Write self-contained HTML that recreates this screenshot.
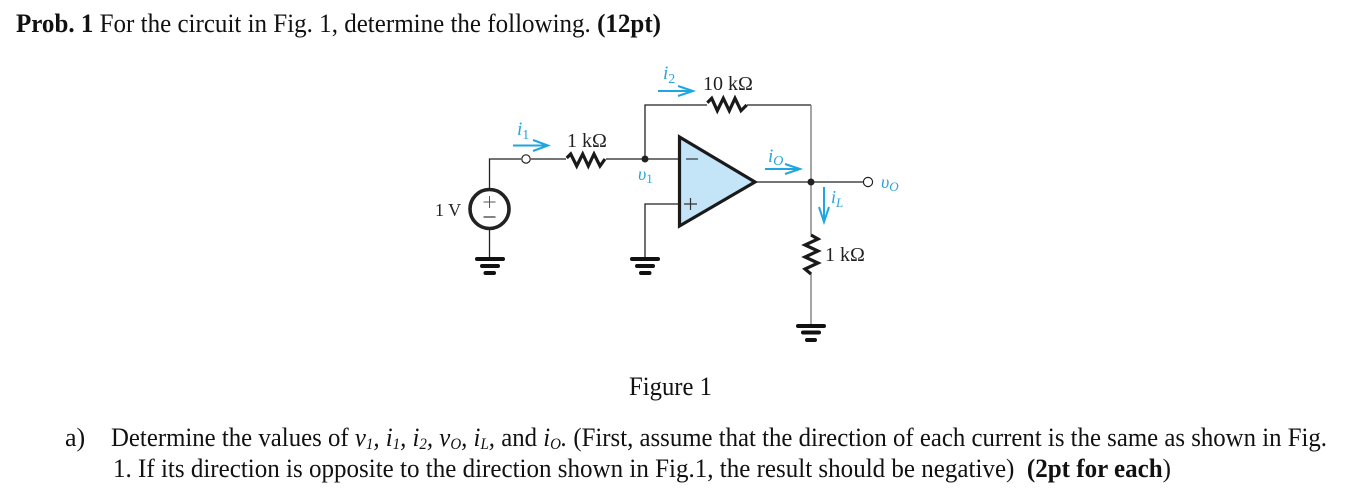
<!DOCTYPE html>
<html><head><meta charset="utf-8">
<style>
html,body{margin:0;padding:0;background:#fff;width:1349px;height:504px;overflow:hidden}
svg{display:block}
text{font-family:"Liberation Serif",serif;fill:#111}
.c{fill:#2aa5d8;font-style:italic}
.l{font-size:20px;fill:#222}
.w{stroke:#222;stroke-width:1.3;fill:none}
.g{stroke:#777;stroke-width:1.3;fill:none}
.r{stroke:#1a1a1a;stroke-width:3.2;fill:none;stroke-linejoin:miter}
.a{stroke:#1fa6e0;stroke-width:2;fill:none}
.gb{stroke:#111;stroke-linecap:round;stroke-width:4}
</style></head><body>
<svg width="1349" height="504" viewBox="0 0 1349 504" xmlns="http://www.w3.org/2000/svg">
<rect width="1349" height="504" fill="#fff"/>
<text x="16" y="32" font-size="26.500" textLength="645" lengthAdjust="spacingAndGlyphs"><tspan font-weight="bold">Prob. 1</tspan> For the circuit in Fig. 1, determine the following. <tspan font-weight="bold">(12pt)</tspan></text>

<!-- wires -->
<path class="w" d="M489.5 190V159H521M531 159H566M606 159H679M645 159V105H707M747 105H811M645 259V204H679M755 182H863"/>
<path class="g" d="M811 105V235M811 273V326"/>
<path class="w" d="M489.5 229V259"/>
<!-- open terminals -->
<circle cx="526" cy="159" r="4.2" fill="#fff" stroke="#222" stroke-width="1.2"/>
<circle cx="868" cy="182" r="4.6" fill="#fff" stroke="#222" stroke-width="1.2"/>
<!-- nodes -->
<circle cx="645" cy="159" r="3.500" fill="#222"/>
<circle cx="811" cy="182" r="3.500" fill="#222"/>
<!-- resistors -->
<path class="r" d="M566.700 158L570.700 154L576.700 166L582.700 154L588.300 166L594 154L600 166L605 159"/>
<path class="r" d="M707.300 102.700L711.700 98.300L717.300 110.700L723.300 98.300L729.300 110.700L735 98.300L741 110.700L746.700 105"/>
<path class="r" d="M811 235L818 239L805 245L818 251L805 257L818 263L805 269L811 274"/>
<!-- source -->
<circle cx="489.5" cy="209" r="19.5" fill="#fff" stroke="#222" stroke-width="3.6"/>
<path d="M489.5 196V208M483.5 202H495.5" stroke="#555" stroke-width="1"/>
<path d="M483.5 217H495.5" stroke="#333" stroke-width="1.2"/>
<!-- op amp -->
<path d="M679.5 137L755 182L679.5 226Z" fill="#c4e4f7" stroke="#1a1a1a" stroke-width="3.2" stroke-linejoin="miter"/>
<path d="M686 159H698" stroke="#333" stroke-width="1.2"/>
<path d="M684 204H697M690.5 198V210" stroke="#333" stroke-width="1.2"/>
<!-- grounds -->
<g class="gb">
<path d="M477 259H503M482 266H498M485.500 273H494"/>
<path d="M632 259H658M637 266H653M641 273H649.500"/>
<path d="M798 326H824M803 332.500H819M807 340H815"/>
</g>
<!-- arrows -->
<path class="a" d="M513 145.500H547M533 140L548 145.500L533 151"/>
<path class="a" d="M658 91H692M678 86L693 91L678 96"/>
<path class="a" d="M765 169H799M785 164L800 169L785 174"/>
<path class="a" d="M824 187V221M819 207L824 222L829 207"/>
<!-- labels -->
<text class="l" x="567" y="147">1 kΩ</text>
<text class="l" x="703" y="90">10 kΩ</text>
<text class="l" x="825" y="261">1 kΩ</text>
<text class="l" x="435" y="216" style="font-size:18px">1 V</text>
<text class="c" x="517" y="135" font-size="19">i<tspan font-size="14" font-style="normal" dy="4">1</tspan></text>
<text class="c" x="663" y="79" font-size="19">i<tspan font-size="14" font-style="normal" dy="4">2</tspan></text>
<text class="c" x="768" y="162" font-size="19">i<tspan font-size="14" dy="3">O</tspan></text>
<text class="c" x="831" y="203" font-size="18">i<tspan font-size="13" dy="4">L</tspan></text>
<text class="c" x="638" y="180" font-size="18">υ<tspan font-size="13" font-style="normal" dy="3">1</tspan></text>
<text class="c" x="881" y="188" font-size="18">υ<tspan font-size="13" dy="3">O</tspan></text>

<text x="629" y="395" font-size="26" textLength="83" lengthAdjust="spacingAndGlyphs">Figure 1</text>
<text x="65" y="446" font-size="26">a)</text>
<text x="111" y="446" font-size="26.500" textLength="1216" lengthAdjust="spacingAndGlyphs">Determine the values of <tspan font-style="italic">v<tspan font-size="16" dy="3">1</tspan><tspan dy="-3">,</tspan> i<tspan font-size="16" dy="3">1</tspan><tspan dy="-3">,</tspan> i<tspan font-size="16" dy="3">2</tspan><tspan dy="-3">,</tspan> v<tspan font-size="16" dy="3">O</tspan><tspan dy="-3">,</tspan> i<tspan font-size="16" dy="3">L</tspan><tspan dy="-3">,</tspan></tspan> and <tspan font-style="italic">i<tspan font-size="16" dy="3">O</tspan><tspan dy="-3">.</tspan></tspan> (First, assume that the direction of each current is the same as shown in Fig.</text>
<text x="113" y="477" font-size="26.500" textLength="1058" lengthAdjust="spacingAndGlyphs" xml:space="preserve">1. If its direction is opposite to the direction shown in Fig.1, the result should be negative)  <tspan font-weight="bold">(2pt for each</tspan>)</text>
</svg>
</body></html>
